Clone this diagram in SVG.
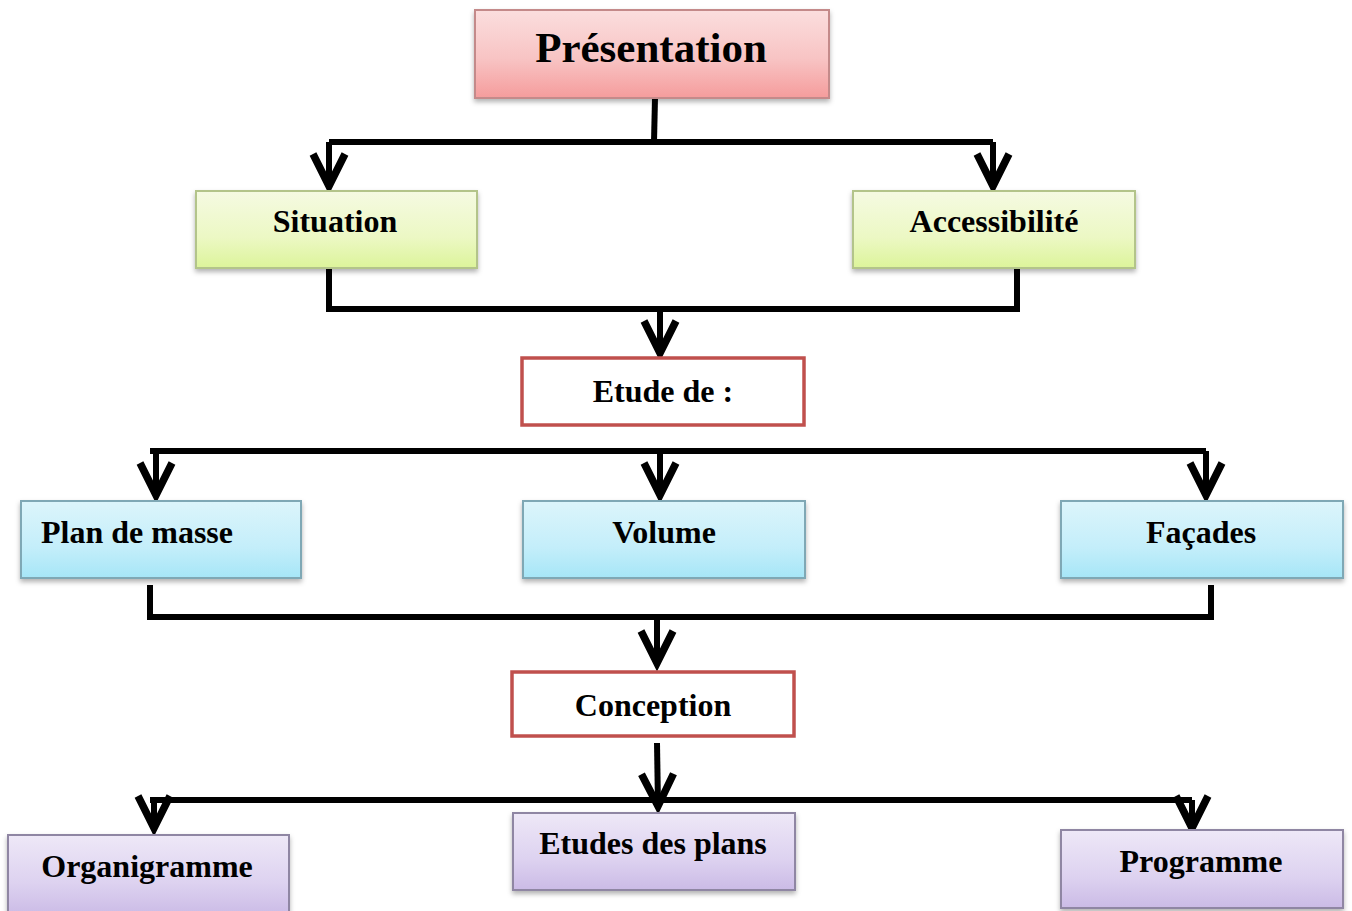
<svg xmlns="http://www.w3.org/2000/svg" width="1352" height="911" viewBox="0 0 1352 911">
<style>
.t{font-family:"Liberation Serif","Times New Roman",serif;font-weight:bold;fill:#000;text-anchor:middle}
.big{font-size:43px}
.lbl{font-size:32px}
.ln{fill:none;stroke:#000;stroke-width:6;stroke-linejoin:miter}
.arr{marker-end:url(#ah)}
.red{fill:#fff;stroke:#c0504d;stroke-width:3.5}
</style>
<defs>
<linearGradient id="gPink" x1="0" y1="0" x2="0" y2="1"><stop offset="0" stop-color="#fbdede"/><stop offset="0.55" stop-color="#f8c4c4"/><stop offset="1" stop-color="#f59c9c"/></linearGradient>
<linearGradient id="gGreen" x1="0" y1="0" x2="0" y2="1"><stop offset="0" stop-color="#f5fae2"/><stop offset="0.6" stop-color="#ecf8c4"/><stop offset="1" stop-color="#dcf49a"/></linearGradient>
<linearGradient id="gBlue" x1="0" y1="0" x2="0" y2="1"><stop offset="0" stop-color="#dcf5fb"/><stop offset="0.6" stop-color="#c4eefa"/><stop offset="1" stop-color="#a6e6f7"/></linearGradient>
<linearGradient id="gPurple" x1="0" y1="0" x2="0" y2="1"><stop offset="0" stop-color="#eee8f7"/><stop offset="0.6" stop-color="#ddd2f0"/><stop offset="1" stop-color="#cbbbe6"/></linearGradient>
<filter id="sh" x="-5%" y="-10%" width="110%" height="130%"><feDropShadow dx="0" dy="3" stdDeviation="2.5" flood-color="#000" flood-opacity="0.3"/></filter>
<marker id="ah" markerUnits="userSpaceOnUse" viewBox="-40 -22 46 44" markerWidth="46" markerHeight="44" refX="0" refY="0" orient="auto" overflow="visible">
<path d="M-32,-16 L0,0 L-32,16" fill="none" stroke="#000" stroke-width="7.5" stroke-linejoin="miter"/>
</marker>
</defs>

<g id="connectors">
<path class="ln" d="M655,98 L654,142"/>
<path class="ln" d="M329,142 L993,142"/>
<path class="ln arr" d="M329,142 L329,186"/>
<path class="ln arr" d="M993,142 L993,186"/>
<path class="ln" d="M329,268 L329,309 L1017,309 L1017,268"/>
<path class="ln arr" d="M660,309 L660,353"/>
<path class="ln" d="M150,451 L1206,451"/>
<path class="ln arr" d="M156,451 L156,495"/>
<path class="ln arr" d="M660,451 L660,495"/>
<path class="ln arr" d="M1206,451 L1206,495"/>
<path class="ln" d="M150,585 L150,617 L1211,617 L1211,585"/>
<path class="ln arr" d="M657,617 L657,663"/>
<path class="ln" d="M150,800 L1192,800"/>
<path class="ln arr" d="M657,743 L658,806"/>
<path class="ln arr" d="M154,800 L154,828"/>
<path class="ln arr" d="M1192,800 L1192,828"/>
</g>

<g id="presentation">
<rect x="475" y="10" width="354" height="88" fill="url(#gPink)" stroke="#c48a8a" stroke-width="2" filter="url(#sh)"/>
<text class="t big" x="651" y="62">Présentation</text>
</g>
<g id="situation">
<rect x="196" y="191" width="281" height="77" fill="url(#gGreen)" stroke="#b3c48a" stroke-width="2" filter="url(#sh)"/>
<text class="t lbl" x="335" y="232">Situation</text>
</g>
<g id="accessibilite">
<rect x="853" y="191" width="282" height="77" fill="url(#gGreen)" stroke="#b3c48a" stroke-width="2" filter="url(#sh)"/>
<text class="t lbl" x="994" y="232">Accessibilité</text>
</g>
<g id="etude">
<rect class="red" x="522" y="358" width="282" height="67"/>
<text class="t lbl" x="663" y="402">Etude de :</text>
</g>
<g id="plan-de-masse">
<rect x="21" y="501" width="280" height="77" fill="url(#gBlue)" stroke="#7fa8b5" stroke-width="2" filter="url(#sh)"/>
<text class="t lbl" x="41" y="543" style="text-anchor:start">Plan de masse</text>
</g>
<g id="volume">
<rect x="523" y="501" width="282" height="77" fill="url(#gBlue)" stroke="#7fa8b5" stroke-width="2" filter="url(#sh)"/>
<text class="t lbl" x="664" y="543">Volume</text>
</g>
<g id="facades">
<rect x="1061" y="501" width="282" height="77" fill="url(#gBlue)" stroke="#7fa8b5" stroke-width="2" filter="url(#sh)"/>
<text class="t lbl" x="1201" y="543">Façades</text>
</g>
<g id="conception">
<rect class="red" x="512" y="672" width="282" height="64"/>
<text class="t lbl" x="653" y="716">Conception</text>
</g>
<g id="organigramme">
<rect x="8" y="835" width="281" height="80" fill="url(#gPurple)" stroke="#8f86a3" stroke-width="2" filter="url(#sh)"/>
<text class="t lbl" x="147" y="877">Organigramme</text>
</g>
<g id="etudes-des-plans">
<rect x="513" y="813" width="282" height="77" fill="url(#gPurple)" stroke="#8f86a3" stroke-width="2" filter="url(#sh)"/>
<text class="t lbl" x="653" y="854">Etudes des plans</text>
</g>
<g id="programme">
<rect x="1061" y="830" width="282" height="78" fill="url(#gPurple)" stroke="#8f86a3" stroke-width="2" filter="url(#sh)"/>
<text class="t lbl" x="1201" y="872">Programme</text>
</g>
</svg>
